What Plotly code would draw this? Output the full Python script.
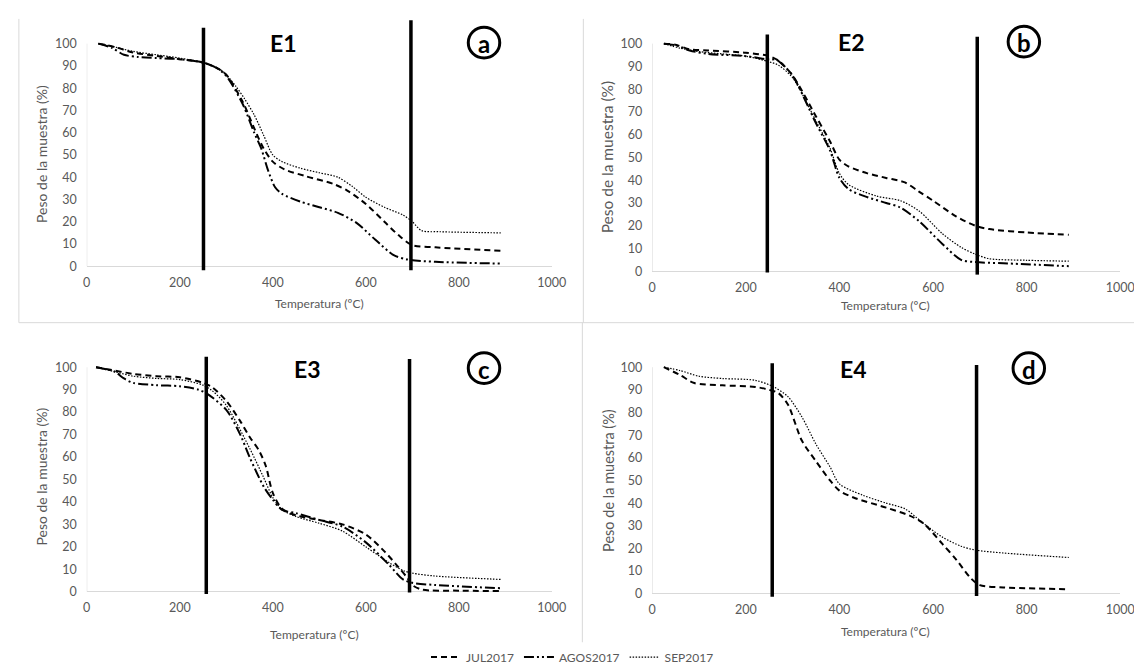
import plotly.graph_objects as go

W, H = 1142, 664
FONT = "Lato"
GREY = "#595959"

series_names = ["JUL2017", "AGOS2017", "SEP2017"]
panel_labels = ["E1", "E2", "E3", "E4"]
panel_letters = ["a", "b", "c", "d"]
x_ticks = [0, 200, 400, 600, 800, 1000]
y_ticks = [0, 10, 20, 30, 40, 50, 60, 70, 80, 90, 100]

# ---- Panel a (E1) ----
a_jul_x = [25, 60, 100, 150, 200, 250, 280, 300, 335, 360, 380, 400, 425, 470, 530, 560, 600, 640, 670, 700, 750, 890]
a_jul_y = [100, 98.5, 96, 94.5, 93, 91.5, 89, 86, 74, 62, 53, 47, 43.5, 40.5, 37, 34, 28, 20, 14, 9.5, 8.5, 7]
a_agos_x = [25, 55, 80, 110, 150, 200, 250, 280, 300, 335, 360, 375, 390, 405, 420, 460, 500, 540, 580, 620, 660, 690, 750, 890]
a_agos_y = [100, 98, 95, 94, 93.5, 93, 91.5, 89, 85.5, 73, 60, 53, 43, 35.5, 32.5, 29, 26.5, 24, 19.5, 12, 5, 3, 2, 1.2]
a_sep_x = [25, 60, 100, 150, 200, 250, 290, 320, 340, 360, 380, 400, 420, 460, 500, 540, 570, 600, 640, 680, 700, 720, 760, 890]
a_sep_y = [100, 98.5, 96.5, 95, 93.5, 91.5, 88, 81, 75, 68, 59, 50, 47, 44, 42, 40, 36, 31, 26.5, 23, 20, 16, 15.5, 15]

# ---- Panel b (E2) ----
b_jul_x = [25, 50, 80, 120, 200, 250, 270, 300, 350, 380, 400, 420, 460, 500, 540, 570, 600, 650, 690, 720, 800, 890]
b_jul_y = [100, 99.5, 97.5, 97, 96, 94.5, 92.5, 86, 68, 57, 49, 46, 43, 41, 39, 35, 31, 24, 20, 18.5, 17, 16]
b_agos_x = [25, 55, 80, 120, 200, 250, 265, 280, 300, 350, 380, 400, 420, 460, 500, 530, 570, 620, 660, 690, 750, 890]
b_agos_y = [100, 99, 97, 95.5, 94.5, 93, 93, 90.5, 86, 65, 53, 41, 36, 32.5, 30, 28, 22, 12, 5, 4, 3.5, 2.2]
b_sep_x = [25, 60, 100, 150, 200, 250, 270, 300, 350, 380, 400, 420, 480, 530, 570, 620, 660, 690, 720, 800, 890]
b_sep_y = [100, 98, 96.5, 95.5, 94.5, 92, 90.5, 85, 66, 54, 43, 38, 33, 31, 26.5, 16.5, 10.5, 7.5, 5.5, 4.8, 4.4]

# ---- Panel c (E3) ----
c_jul_x = [20, 60, 100, 150, 200, 250, 270, 300, 330, 350, 370, 385, 400, 420, 450, 500, 550, 600, 640, 670, 690, 700, 720, 800, 890]
c_jul_y = [100, 98.5, 97, 96, 95.5, 93, 91, 85, 76, 69, 63, 56, 44, 37, 34, 32, 30, 25.5, 18, 11, 6, 3, 1, 0.5, 0.3]
c_agos_x = [20, 60, 80, 100, 150, 200, 240, 260, 300, 330, 350, 380, 400, 420, 450, 500, 550, 600, 650, 680, 700, 750, 890]
c_agos_y = [100, 98, 95, 93, 92, 91.5, 90, 88, 81, 70, 60, 47, 41, 36.5, 35, 32, 29, 22, 12, 5.5, 4, 3, 1.6]
c_sep_x = [20, 60, 100, 150, 200, 250, 270, 300, 350, 380, 400, 420, 450, 500, 550, 600, 650, 680, 700, 750, 890]
c_sep_y = [100, 98, 96, 95, 94.5, 92, 89.5, 83, 64, 51, 42, 36.5, 33.5, 30.5, 27, 20, 13, 9.5, 8.3, 7, 5.5]

# ---- Panel d (E4) ----
d_jul_x = [25, 60, 90, 150, 220, 250, 270, 290, 320, 350, 380, 400, 430, 500, 550, 580, 620, 650, 680, 700, 750, 890]
d_jul_y = [100, 96.5, 93, 92, 91.3, 90, 88.5, 83.5, 67.5, 58.5, 50, 45.5, 42.5, 38, 34.5, 31, 22, 15, 7, 3.8, 2.8, 2]
d_sep_x = [25, 60, 100, 150, 220, 260, 290, 320, 350, 380, 400, 450, 500, 540, 580, 620, 660, 690, 750, 890]
d_sep_y = [100, 98.5, 96, 95, 94.2, 91.3, 87, 78, 66, 56, 48.5, 43.5, 40, 37.5, 31, 25, 21, 19.3, 18, 16]

# vertical marker lines (temperature, y-bottom, y-top)
a_vlines = [(251, -1.8, 107.1), (697, -1.8, 110.5)]
b_vlines = [(246, -0.6, 104.0), (694.5, -1.5, 103.0)]
c_vlines = [(257, -1.0, 104.7), (694, -0.3, 103.7)]
d_vlines = [(256.5, -1.3, 101.7), (693, -1.0, 101.0)]

styles = {
    "JUL2017": dict(color="black", width=2, dash="6px,4px"),
    "AGOS2017": dict(color="black", width=2, dash="10px,3px,2px,3px,2px,3px"),
    "SEP2017": dict(color="black", width=1.2, dash="1.5px,1.5px"),
}

def px2px(x):
    return x / W

def py2py(y):
    return 1 - y / H

# layout of each panel: x pixel of 0 & 1000, y pixel of 100 & 0, y range, title font sizes
panels = [
    dict(x0=76, x1=549, y100=35, y0=260, yr=(-2.5, 111.5), ytf=14,
         series=[("JUL2017", a_jul_x, a_jul_y), ("AGOS2017", a_agos_x, a_agos_y), ("SEP2017", a_sep_x, a_sep_y)],
         vlines=a_vlines, ytitle=(30, 147), xtitle=(313, 298), lab=(276, 34), circ=(480, 34)),
    dict(x0=651, x1=1127, y100=35, y0=265, yr=(-2.5, 105), ytf=15.5,
         series=[("JUL2017", b_jul_x, b_jul_y), ("AGOS2017", b_agos_x, b_agos_y), ("SEP2017", b_sep_x, b_sep_y)],
         vlines=b_vlines, ytitle=(605, 150), xtitle=(888, 300), lab=(854, 33), circ=(1029, 33)),
    dict(x0=76, x1=549, y100=362, y0=589, yr=(-2, 106), ytf=14,
         series=[("JUL2017", c_jul_x, c_jul_y), ("AGOS2017", c_agos_x, c_agos_y), ("SEP2017", c_sep_x, c_sep_y)],
         vlines=c_vlines, ytitle=(30, 473), xtitle=(308, 632), lab=(300, 364), circ=(480, 363)),
    dict(x0=651, x1=1127, y100=362, y0=591, yr=(-2, 103), ytf=14.5,
         series=[("JUL2017", d_jul_x, d_jul_y), ("SEP2017", d_sep_x, d_sep_y)],
         vlines=d_vlines, ytitle=(607, 476), xtitle=(888, 629), lab=(856, 364), circ=(1034, 363)),
]

fig = go.Figure()
shapes = []
annotations = []
layout_axes = {}

for i, p in enumerate(panels):
    n = i + 1
    xa = "x" if n == 1 else f"x{n}"
    ya = "y" if n == 1 else f"y{n}"
    xkey = "xaxis" if n == 1 else f"xaxis{n}"
    ykey = "yaxis" if n == 1 else f"yaxis{n}"
    ppu = (p["y0"] - p["y100"]) / 100.0
    top_px = p["y100"] - (p["yr"][1] - 100) * ppu
    bot_px = p["y0"] - p["yr"][0] * ppu
    layout_axes[xkey] = dict(
        domain=[px2px(p["x0"]), px2px(p["x1"])], range=[0, 1000], anchor=ya,
        tickvals=x_ticks, showgrid=False, zeroline=False, showline=False, ticks="",
        tickfont=dict(family=FONT, size=12.5, color=GREY), ticklabelstandoff=2,
        fixedrange=True,
    )
    layout_axes[ykey] = dict(
        domain=[py2py(bot_px), py2py(top_px)], range=list(p["yr"]), anchor=xa,
        tickvals=y_ticks, showgrid=False, zeroline=True, zerolinecolor="#d9d9d9",
        zerolinewidth=1, showline=False, ticks="",
        tickfont=dict(family=FONT, size=12.5, color=GREY), ticklabelstandoff=9,
        fixedrange=True,
    )
    for name, xs, ys in p["series"]:
        fig.add_trace(go.Scatter(
            x=xs, y=ys, mode="lines", name=name, xaxis=xa, yaxis=ya,
            line=dict(shape="spline", smoothing=0.8, **styles[name]),
            showlegend=(n == 1), legendgroup=name,
        ))
    # y axis line 0..100
    shapes.append(dict(type="line", xref=xa, yref=ya, x0=0, x1=0, y0=0, y1=100,
                       line=dict(color="#d9d9d9", width=1)))
    for (xv, yb, yt) in p["vlines"]:
        shapes.append(dict(type="line", xref=xa, yref=ya, x0=xv, x1=xv, y0=yb, y1=yt,
                           line=dict(color="black", width=3.5)))
    annotations.append(dict(text="Peso de la muestra (%)", xref="paper", yref="paper",
                            x=px2px(p["ytitle"][0]), y=py2py(p["ytitle"][1]), textangle=-90,
                            showarrow=False, font=dict(family=FONT, size=p["ytf"], color=GREY),
                            xanchor="center", yanchor="middle"))
    annotations.append(dict(text="Temperatura (ºC)", xref="paper", yref="paper",
                            x=px2px(p["xtitle"][0]), y=py2py(p["xtitle"][1]),
                            showarrow=False, font=dict(family=FONT, size=12, color=GREY),
                            xanchor="center", yanchor="middle"))
    annotations.append(dict(text=f"<b>{panel_labels[i]}</b>", xref="paper", yref="paper",
                            x=px2px(p["lab"][0]), y=py2py(p["lab"][1]),
                            showarrow=False, font=dict(family=FONT, size=23, color="black"),
                            xanchor="center", yanchor="middle"))
    cx, cy = p["circ"]
    shapes.append(dict(type="circle", xref="paper", yref="paper",
                       x0=px2px(cx - 16), x1=px2px(cx + 16), y0=py2py(cy + 15.5), y1=py2py(cy - 15.5),
                       line=dict(color="black", width=3)))
    annotations.append(dict(text=f"<b>{panel_letters[i]}</b>", xref="paper", yref="paper",
                            x=px2px(cx), y=py2py(cy + 1),
                            showarrow=False, font=dict(family=FONT, size=24, color="black"),
                            xanchor="center", yanchor="middle"))

# grey frame lines
frame = [((7, 10), (7, 317)), ((7, 317), (1142, 317)), ((581, 10), (581, 317)), ((580, 317), (580, 640))]
for (xa0, ya0), (xa1, ya1) in frame:
    shapes.append(dict(type="line", xref="paper", yref="paper",
                       x0=px2px(xa0), y0=py2py(ya0), x1=px2px(xa1), y1=py2py(ya1),
                       line=dict(color="#d9d9d9", width=1)))

fig.update_layout(
    width=W, height=H, margin=dict(l=0, r=0, t=0, b=0),
    paper_bgcolor="white", plot_bgcolor="white",
    shapes=shapes, annotations=annotations,
    legend=dict(orientation="h", x=px2px(570), xanchor="center", y=py2py(655), yanchor="middle",
                font=dict(family=FONT, size=12, color=GREY), itemwidth=30,
                bgcolor="rgba(0,0,0,0)", tracegroupgap=0),
    **layout_axes,
)

fig.write_html("out.html")
